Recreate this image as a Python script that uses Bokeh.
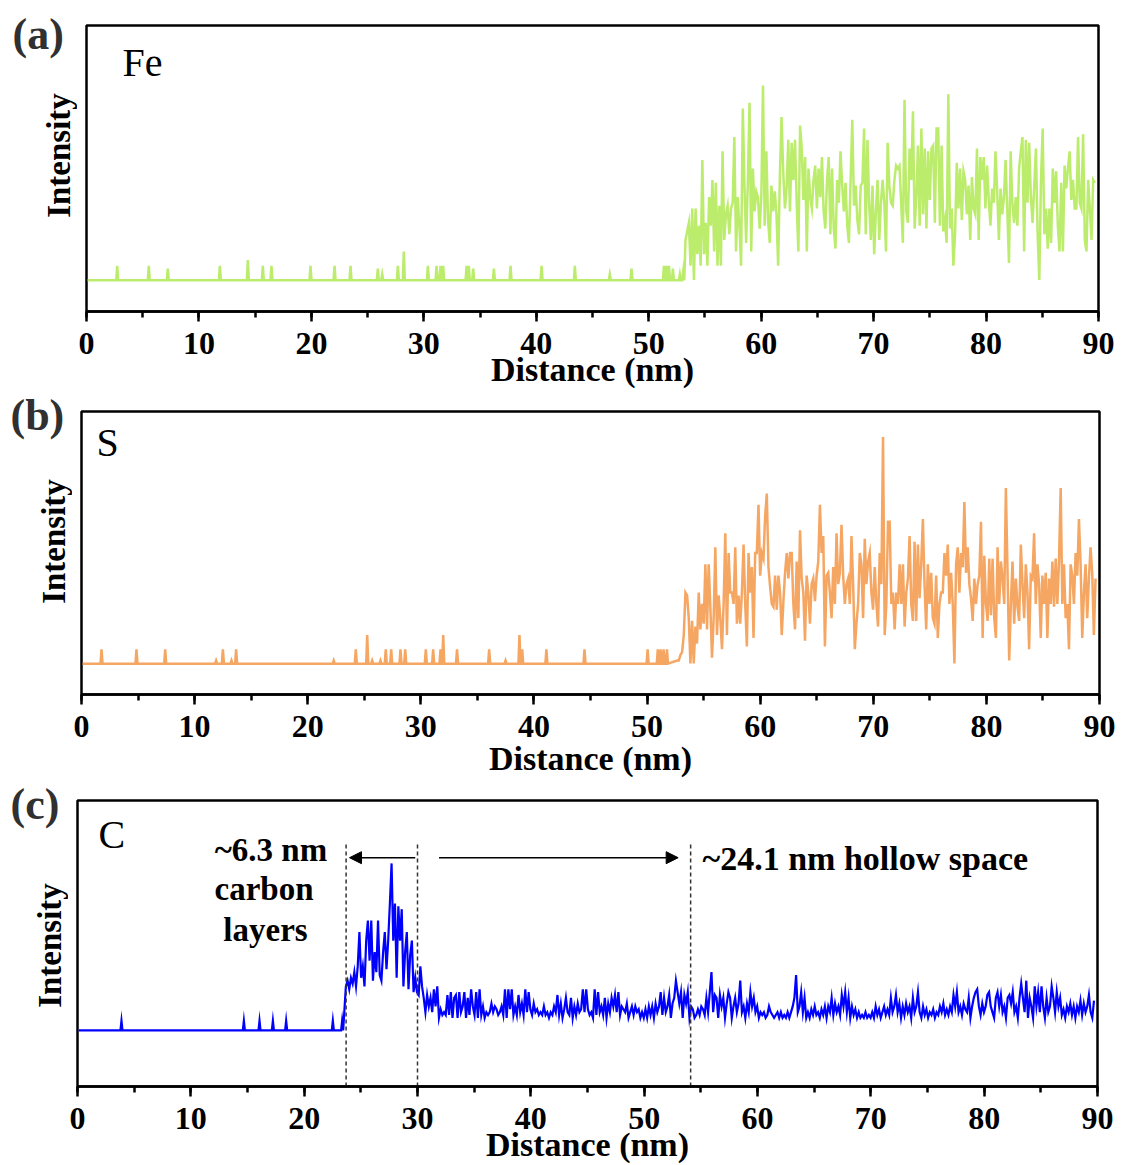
import numpy as np
from bokeh.plotting import figure
from bokeh.layouts import column, row
from bokeh.models import Range1d, Label, Arrow, NormalHead, SingleIntervalTicker
from bokeh.embed import file_html
from bokeh.resources import INLINE

# ---------------- data ----------------
x_ticks_interval = 10
distance_range = (0, 90)

# Fe: flat baseline with sparse spikes, then noisy signal
fe_base = 10.9
fe_spike_x = [2.73, 5.54, 7.23, 11.86, 14.35, 15.68, 16.45, 19.92, 22.06, 23.48, 25.91, 26.3,
              27.69, 28.22, 30.36, 31.13, 31.48, 31.72, 33.8, 34.0, 34.39, 36.23, 37.71, 40.47,
              43.43, 46.54, 48.47, 51.35, 51.58, 51.8, 52.15, 52.77, 53.07]
fe_spike_h = [16, 16, 15, 16, 18, 16, 16, 16, 16, 16, 15, 13,
              16, 21, 16, 16, 16, 16, 16, 16, 15, 15, 16, 16,
              16, 13, 15, 16, 16, 16, 15, 13, 14]
fe_noise_start, fe_noise_end = 53.27, 89.68
fe_noise = [25, 28, 31, 16, 36, 11, 36, 20, 30, 16,
            53, 20, 31, 16, 40, 30, 46, 21, 45, 16,
            37, 16, 56, 25, 34, 37, 27, 36, 38, 61,
            21, 40, 30, 16, 71, 44, 24, 45, 73, 21,
            50, 35, 42, 40, 29, 40, 79, 30, 56, 32,
            24, 44, 35, 42, 34, 16, 47, 68, 49, 36,
            43, 60, 35, 59, 46, 60, 38, 21, 65, 57,
            39, 54, 21, 50, 40, 36, 46, 51, 36, 50,
            40, 54, 35, 29, 46, 54, 27, 50, 29, 22,
            46, 38, 56, 44, 35, 45, 30, 24, 46, 67,
            37, 44, 32, 27, 44, 45, 64, 27, 60, 38,
            25, 44, 20, 35, 46, 25, 38, 46,
            38, 21, 59, 44, 38, 37, 46, 51, 50, 51,
            38, 24, 74, 35, 31, 57, 46, 70, 29, 40,
            58, 30, 64, 34, 57, 29, 56, 39, 57, 58,
            31, 64, 64, 30, 58, 28, 32, 24, 76, 29,
            36, 16, 27, 52, 36, 50, 32, 49, 46, 34,
            44, 25, 47, 36, 34, 57, 25, 54, 46, 54,
            36, 51, 39, 30, 43, 38, 56, 42, 25, 43,
            34, 40, 53, 35, 17, 56, 38, 31, 40, 30,
            50, 56, 61, 21, 60, 38, 59, 40, 31, 44,
            57, 27, 11, 46, 64, 27, 36, 22, 36, 24,
            50, 38, 49, 30, 21, 45, 21, 51, 43, 50,
            56, 39, 46, 36, 36, 61, 38, 36, 62, 25,
            21, 46, 36, 25, 46, 45]

# S
s_base = 10.9
s_spike_x = [1.77, 4.86, 7.4, 11.9, 12.5, 13.26, 13.67, 22.3, 24.25, 25.26, 25.7, 26.43,
             26.9, 27.38, 28.2, 28.62, 30.44, 31.09, 31.74, 31.98, 33.2, 36.04, 37.49, 38.72,
             38.96, 41.1, 44.47, 50.05, 50.95, 51.2, 51.46, 51.76]
s_spike_h = [16, 16, 16, 12, 16, 12, 16, 12, 16, 21, 12, 12,
             16, 16, 16, 16, 16, 16, 16, 21, 16, 16, 12, 21,
             16, 16, 16, 16, 16, 16, 16, 16]
s_noise_start, s_noise_end = 52.66, 89.65
s_noise = [12, 12, 14, 15, 21, 36, 35, 27, 11, 26,
           11, 24, 18, 36, 23, 32, 25, 46, 23, 46,
           31, 13, 27, 52, 21, 35, 27, 16, 32, 57,
           21, 50, 36, 36, 32, 52, 25, 35, 25, 36,
           53, 32, 17, 50, 36, 45, 20, 50, 50, 67,
           42, 50, 48, 63, 71, 45, 38, 32, 31, 42,
           30, 42, 36, 21, 33, 43, 50, 41, 50, 50,
           32, 23, 47, 27, 58, 41, 36, 19, 42, 36,
           25, 39, 41, 33, 42, 47, 67, 50, 56, 17,
           42, 43, 36, 27, 45, 32, 57, 39, 43, 60,
           42, 32, 39, 41, 32, 56, 39, 16, 25, 32,
           50, 46, 27, 55, 39, 47, 50, 36, 30, 45,
           32, 24, 50, 39, 91, 21, 32, 61,
           61, 32, 36, 23, 36, 32, 46, 32, 46, 24,
           36, 41, 56, 32, 26, 54, 26, 53, 34, 46,
           62, 39, 23, 46, 32, 43, 27, 25, 42, 20,
           32, 36, 36, 50, 42, 53, 32, 43, 32, 11,
           46, 52, 36, 50, 45, 68, 43, 52, 39, 34,
           26, 41, 32, 39, 42, 61, 20, 49, 32, 26,
           48, 28, 48, 27, 20, 52, 32, 47, 41, 32,
           73, 43, 12, 32, 47, 25, 41, 31, 26, 53,
           39, 27, 46, 36, 16, 42, 41, 57, 32, 46,
           39, 20, 42, 32, 43, 20, 41, 32, 47, 31,
           48, 32, 47, 73, 32, 46, 27, 32, 16, 46,
           42, 32, 50, 42, 62, 46, 20, 36, 46, 27,
           41, 52, 43, 21, 41]

# C
c_base = 19.6
c_spike_x = [3.88, 14.68, 16.06, 17.24, 18.41, 22.53, 23.35]
c_spike_h = [23, 23, 23, 23, 23, 23, 23]
c_noise_start, c_noise_end = 23.68, 89.69
c_noise = [35, 37, 34, 38, 36, 40, 35, 42, 54, 38,
           42, 35, 51, 58, 44, 58, 37, 47, 40, 58,
           39, 37, 47, 54, 41, 51, 64, 78, 51, 64,
           38, 63, 51, 62, 35, 47, 54, 34, 46, 51,
           33, 38, 33, 32, 42, 35, 31, 26, 32, 28,
           31, 26, 34, 28, 35, 24, 27, 25, 26, 25,
           32, 25, 33, 24, 31, 32, 24, 33, 26, 28,
           33, 24, 31, 25, 34, 28, 25, 33, 24, 34,
           25, 28, 24, 26, 25, 26, 29, 26, 28, 27,
           25, 26, 28, 25, 34, 24, 34, 27, 34, 25,
           28, 25, 32, 26, 29, 25, 34, 26, 33, 27,
           25, 29, 26, 27, 25, 26, 25, 28, 25, 26,
           24, 26, 25, 28, 26, 32, 25, 29, 24, 27,
           31, 26, 25, 31, 24, 28, 25, 29, 26, 27,
           34, 26, 34, 27, 25, 26, 24,
           34, 25, 33, 26, 28, 25, 31, 24, 29, 26,
           31, 28, 32, 26, 33, 25, 28, 27, 26, 29,
           24, 26, 28, 25, 28, 26, 27, 24, 26, 24,
           27, 24, 28, 25, 28, 24, 29, 26, 28, 33,
           25, 31, 26, 28, 32, 24, 29, 31, 37, 33,
           29, 33, 24, 32, 29, 33, 24, 28, 27, 24,
           25, 27, 25, 28, 27, 25, 31, 26, 33, 40,
           26, 32, 31, 24, 32, 28, 31, 24, 29, 33,
           31, 24, 28, 31, 26, 29, 37, 26, 28, 24,
           29, 26, 33, 28, 31, 26, 28, 24, 26, 25,
           26, 24, 25, 28, 26, 25, 24, 25, 26, 24,
           26, 24, 25, 24, 26, 24, 26, 28, 31, 39,
           26, 28, 33, 26, 31, 24, 26, 24, 27, 25,
           28, 25, 26, 24, 27, 25, 28, 24, 28, 26,
           31, 25, 29, 26, 28, 25, 32, 28, 33, 26,
           31, 24, 28, 25, 27, 24, 26, 24, 25, 24,
           26, 24, 25, 24, 26, 24, 28, 25, 27, 24,
           26, 28, 25, 27, 25, 31, 26, 28, 32, 26,
           29, 24, 28, 25, 29, 26, 28, 24, 31, 26,
           28, 33, 26, 24, 28, 25, 27, 24, 26, 25,
           27, 24, 26, 25, 28, 26, 29, 25, 27, 25,
           28, 26, 32, 28, 33, 26, 28, 25, 29, 27,
           26, 31, 24, 28, 31, 33, 34, 28, 25, 29,
           26, 28, 32, 33, 28, 26, 24, 31, 33, 28,
           32, 26, 28, 24, 31, 32, 29, 33, 26, 28,
           24, 31, 36, 31, 26, 37, 24, 31, 28, 24,
           35, 28, 33, 26, 35, 28, 24, 31, 26, 28,
           35, 31, 26, 33, 28, 31, 25, 27, 24, 28,
           26, 29, 25, 28, 24, 28, 26, 30, 25, 29,
           26, 28, 32, 26, 24, 30]

# boundaries marked in panel (c): carbon layer 23.7-30.0 nm, hollow space to 54.1 nm
c_marks = [23.7, 30.0, 54.1]

# ---------------- styles ----------------
SERIF = "Liberation Serif"
FE_COLOR = "#bcec6c"
S_COLOR = "#f5a662"
C_COLOR = "#0000ff"


def build_profile(base, spike_x, spike_h, n_start, n_end, n_vals, x0=0.1, hw=0.09):
    xs, ys = [x0], [base]
    for sx, sh in zip(spike_x, spike_h):
        xs += [sx - hw, sx, sx + hw]
        ys += [base, sh, base]
    xs += list(np.linspace(n_start, n_end, len(n_vals)))
    ys += list(n_vals)
    return xs, ys


def make_panel(width, height, bl, br, bt, bb, xlab_standoff=-6):
    p = figure(width=width, height=height,
               x_range=Range1d(*distance_range), y_range=Range1d(0, 100),
               output_backend="svg", toolbar_location=None,
               min_border_left=bl, min_border_right=br,
               min_border_top=bt, min_border_bottom=bb)
    p.yaxis.visible = False
    p.grid.visible = False
    p.outline_line_color = "black"
    p.outline_line_width = 2.5
    p.outline_line_alpha = 1.0
    p.background_fill_color = "white"
    p.border_fill_color = "white"

    ax = p.xaxis[0]
    ax.ticker = SingleIntervalTicker(interval=x_ticks_interval, num_minor_ticks=2)
    ax.axis_line_color = "black"
    ax.axis_line_width = 2.5
    ax.major_tick_in = 0
    ax.major_tick_out = 10
    ax.minor_tick_in = 0
    ax.minor_tick_out = 6
    ax.major_tick_line_width = 2.5
    ax.minor_tick_line_width = 2.5
    ax.major_tick_line_color = "black"
    ax.minor_tick_line_color = "black"
    ax.major_label_text_font = SERIF
    ax.major_label_text_font_style = "bold"
    ax.major_label_text_font_size = "32px"
    ax.major_label_text_color = "black"
    ax.major_label_standoff = 11
    ax.axis_label = "Distance (nm)"
    ax.axis_label_text_font = SERIF
    ax.axis_label_text_font_style = "bold"
    ax.axis_label_text_font_size = "34px"
    ax.axis_label_text_color = "black"
    ax.axis_label_standoff = xlab_standoff
    return p


def make_side(width, height, tag, tag_xy, int_xy):
    """Narrow strip left of a panel holding the panel tag and the y title (pixel coords)."""
    t = figure(width=width, height=height,
               x_range=Range1d(0, width), y_range=Range1d(height, 0),
               output_backend="svg", toolbar_location=None, min_border=0)
    t.axis.visible = False
    t.grid.visible = False
    t.outline_line_color = None
    t.background_fill_color = "white"
    t.border_fill_color = "white"
    t.add_layout(Label(x=tag_xy[0], y=tag_xy[1], text=tag, text_font=SERIF,
                       text_font_style="bold", text_font_size="44px", text_color="#303030",
                       text_align="left", text_baseline="middle"))
    t.add_layout(Label(x=int_xy[0], y=int_xy[1], text="Intensity", text_font=SERIF,
                       text_font_style="bold", text_font_size="33px", text_color="black",
                       text_align="center", text_baseline="middle", angle=np.pi / 2))
    return t


def add_element(p, elem, elem_xy):
    p.add_layout(Label(x=elem_xy[0], y=elem_xy[1], text=elem, text_font=SERIF,
                       text_font_style="normal", text_font_size="40px", text_color="black",
                       text_align="left", text_baseline="middle"))


TOTAL_W = 1118
BORDER_L = 9

# ---------------- panel (a) Fe ----------------
HA = 390
sa = make_side(77, HA, "(a)", (12, 34), (58, 155))
pa = make_panel(TOTAL_W - 77, HA, BORDER_L, 20, 25, HA - 25 - 288)
fx, fy = build_profile(fe_base, fe_spike_x, fe_spike_h, fe_noise_start, fe_noise_end, fe_noise)
pa.line(fx, fy, line_color=FE_COLOR, line_width=2.5, line_join="miter")
add_element(pa, "Fe", (3.2, 87.0))

# ---------------- panel (b) S ----------------
HB = 389
sb = make_side(72, HB, "(b)", (10, 25), (53, 151))
pb = make_panel(TOTAL_W - 72, HB, BORDER_L, 19, 21, HB - 21 - 287, xlab_standoff=0)
sx, sy = build_profile(s_base, s_spike_x, s_spike_h, s_noise_start, s_noise_end, s_noise)
pb.line(sx, sy, line_color=S_COLOR, line_width=2.5, line_join="miter")
add_element(pb, "S", (1.33, 89.0))

# ---------------- panel (c) C ----------------
HC = 386
sc = make_side(68, HC, "(c)", (10, 25), (49, 166))
pc = make_panel(TOTAL_W - 68, HC, BORDER_L, 21, 21, HC - 21 - 288)
cx, cy = build_profile(c_base, c_spike_x, c_spike_h, c_noise_start, c_noise_end, c_noise)
pc.line(cx, cy, line_color=C_COLOR, line_width=2.2, line_join="miter")
add_element(pc, "C", (1.85, 88.1))

mark_top = 85
pc.segment(x0=c_marks, y0=[0] * len(c_marks), x1=c_marks, y1=[mark_top] * len(c_marks),
           line_color="#333333", line_width=1.5, line_dash="4 3")
arrow_y = 80
pc.add_layout(Arrow(end=NormalHead(size=12, fill_color="black", line_color="black"),
                    x_start=c_marks[1] - 0.2, y_start=arrow_y, x_end=c_marks[0] + 0.3, y_end=arrow_y,
                    line_color="black", line_width=1.5))
pc.add_layout(Arrow(end=NormalHead(size=12, fill_color="black", line_color="black"),
                    x_start=c_marks[1] + 1.9, y_start=arrow_y, x_end=c_marks[2] - 1.1, y_end=arrow_y,
                    line_color="black", line_width=1.5))

ann_style = dict(text_font=SERIF, text_font_style="bold", text_color="black",
                 text_baseline="middle")
pc.add_layout(Label(x=17.07, y=82.6, text="~6.3 nm", text_align="center",
                    text_font_size="33px", **ann_style))
pc.add_layout(Label(x=16.46, y=69.2, text="carbon", text_align="center",
                    text_font_size="33px", **ann_style))
pc.add_layout(Label(x=16.59, y=54.7, text="layers", text_align="center",
                    text_font_size="33px", **ann_style))
pc.add_layout(Label(x=55.15, y=79.7, text="~24.1 nm hollow space", text_align="left",
                    text_font_size="34px", **ann_style))

layout = column(row(column(sa), column(pa), spacing=0),
                row(column(sb), column(pb), spacing=0),
                row(column(sc), column(pc), spacing=0), spacing=0)
open("out.html", "w").write(file_html(layout, INLINE))
